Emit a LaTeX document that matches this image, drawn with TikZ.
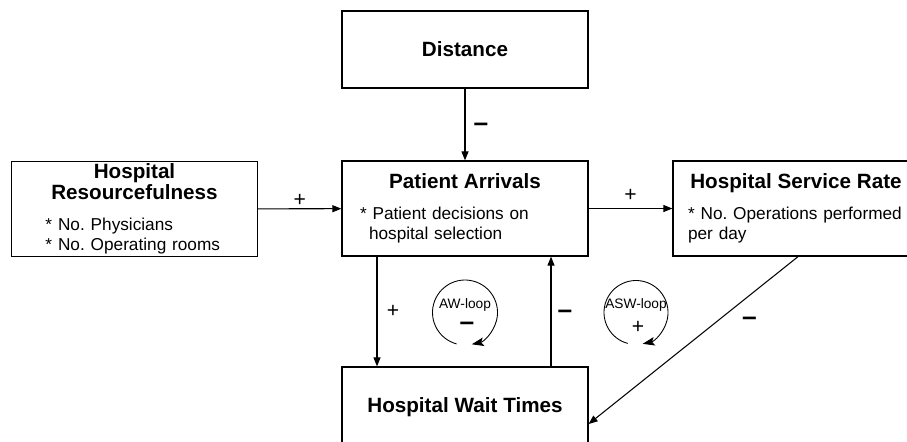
\documentclass[tikz,border=0pt]{standalone}
\usepackage{fontspec}
\setmainfont{Liberation Sans}
\usetikzlibrary{arrows.meta,positioning,calc}
\frenchspacing

\newcommand{\boxhead}[1]{{\centering\fontsize{11.75pt}{10.4pt}\selectfont\bfseries #1\par}}
\newcommand{\boxnote}[2]{\vspace{6.3pt}{\fontsize{9.8pt}{11.3pt}\selectfont\leftskip=#1\relax #2\par}}
\newcommand{\negsign}{\textendash}

\tikzset{
	box/.style={draw, line width=0.7pt, minimum width=4.92cm, minimum height=1.9cm, text width=4.6cm, inner sep=0pt, align=left},
	link/.style={line width=0.6pt, -{Triangle[length=0.18cm, width=0.14cm]}},
	possign/.style={inner sep=0pt, font=\fontsize{12pt}{12pt}\selectfont},
	negsign/.style={inner sep=0pt, yshift=-0.06cm, font=\fontsize{15pt}{15pt}\selectfont\bfseries},
	looptxt/.style={inner sep=0pt, font=\fontsize{7.8pt}{8pt}\selectfont},
	cyclearrow/.style={line width=0.5pt, -{Stealth[length=0.24cm, width=0.17cm, inset=0.05cm]}}
}

\begin{document}
\begin{tikzpicture}
	\useasboundingbox (0,0) rectangle (18.14,-8.82);

	% Factors
	\node[box, minimum height=1.54cm] (dist) at (9.30,-0.99) {\boxhead{Distance}};
	\node[box] (arr) at (9.30,-4.17) {\boxhead{Patient Arrivals}\boxnote{0.2cm}{* Patient decisions on\\\hspace*{0.18cm}hospital selection}};
	\node[box] (res) at (2.69,-4.18) {\boxhead{Hospital\\Resourcefulness}\boxnote{0.52cm}{* No. Physicians\\{}* No. Operating rooms}};
	\node[box] (serv) at (15.92,-4.17) {\boxhead{Hospital Service Rate}\boxnote{0.14cm}{* No. Operations performed\\per day}};
	\node[box, minimum height=1.6cm] (wait) at (9.30,-8.14) {\boxhead{Hospital Wait Times}};

	% Links
	\draw[link] (dist) -- node[negsign, xshift=0.32cm]{\negsign} (arr);
	\draw[link] (res) -- node[possign, yshift=0.16cm]{+} (arr);
	\draw[link] (arr) -- node[possign, yshift=0.26cm]{+} (serv);
	\draw[link] ([xshift=-1.76cm]arr.south) -- node[possign, xshift=0.32cm]{+} ([xshift=-1.76cm]arr.south |- wait.north);
	\draw[link] ([xshift=1.72cm]wait.north) -- node[negsign, xshift=0.28cm]{\negsign} ([xshift=1.72cm]wait.north |- arr.south);
	\draw[link] ([xshift=0.04cm]serv.south) -- node[negsign, pos=0.285, shift={(0.22cm,-0.28cm)}]{\negsign} ([yshift=-0.34cm]wait.east);

	% Loops
	\coordinate (awc) at (9.30,-6.25);
	\coordinate (aswc) at (12.72,-6.25);
	\draw[cyclearrow] (awc) ++(255:0.65) arc[start angle=255, end angle=-78, radius=0.65];
	\draw[cyclearrow] (aswc) ++(255:0.64) arc[start angle=255, end angle=-78, radius=0.64];
	\node[looptxt] (awname) at (9.30,-6.10) {AW-loop};
	\node[negsign] (awsign) at (9.34,-6.46) {\negsign};
	\node[looptxt] (aswname) at (12.72,-6.10) {ASW-loop};
	\node[possign] (aswsign) at (12.76,-6.54) {+};
\end{tikzpicture}
\end{document}
